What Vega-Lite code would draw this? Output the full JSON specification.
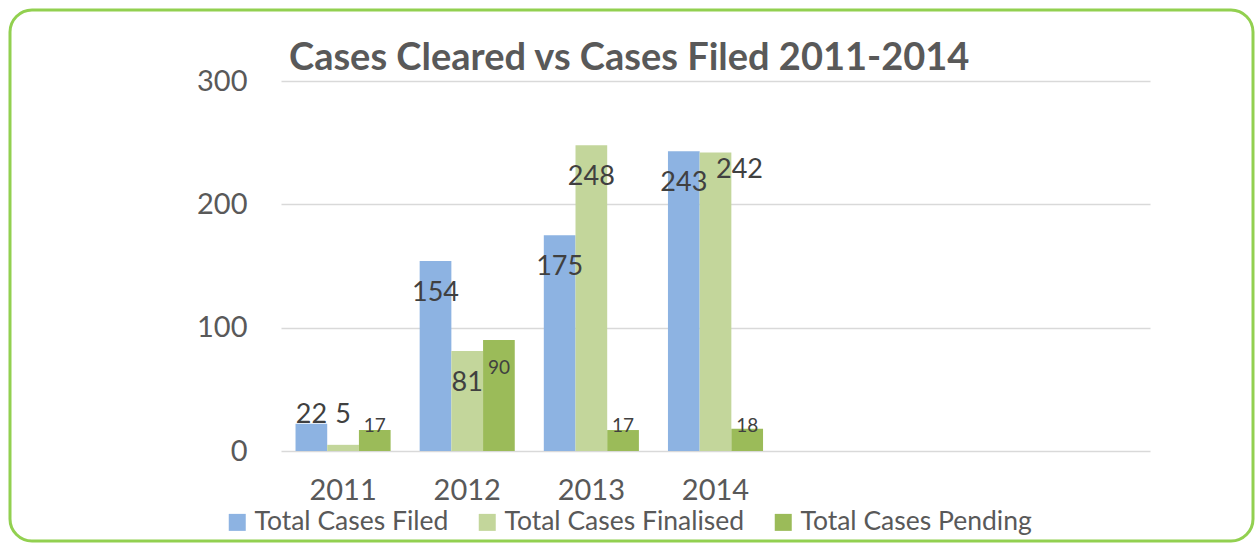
{
  "$schema": "https://vega.github.io/schema/vega-lite/v6.json",
  "width": 1243,
  "height": 531,
  "autosize": "none",
  "padding": {"left": 10, "top": 10, "right": 3, "bottom": 2},
  "background": "white",
  "config": {
    "view": {"stroke": "#92D050", "strokeWidth": 3, "cornerRadius": 22},
    "font": "Lato"
  },
  "title": {
    "text": "Cases Cleared vs Cases Filed 2011-2014",
    "anchor": "start",
    "dx": 279,
    "offset": -68,
    "fontSize": 38,
    "fontWeight": "bold",
    "color": "#595959",
    "font": "Lato"
  },
  "data": {
    "values": [
      {"year": "2011", "series": "Total Cases Filed", "value": 22},
      {"year": "2011", "series": "Total Cases Finalised", "value": 5},
      {"year": "2011", "series": "Total Cases Pending", "value": 17},
      {"year": "2012", "series": "Total Cases Filed", "value": 154},
      {"year": "2012", "series": "Total Cases Finalised", "value": 81},
      {"year": "2012", "series": "Total Cases Pending", "value": 90},
      {"year": "2013", "series": "Total Cases Filed", "value": 175},
      {"year": "2013", "series": "Total Cases Finalised", "value": 248},
      {"year": "2013", "series": "Total Cases Pending", "value": 17},
      {"year": "2014", "series": "Total Cases Filed", "value": 243},
      {"year": "2014", "series": "Total Cases Finalised", "value": 242},
      {"year": "2014", "series": "Total Cases Pending", "value": 18}
    ]
  },
  "encoding": {
    "x": {
      "field": "year",
      "type": "nominal",
      "title": null,
      "scale": {
        "domain": ["2011", "2012", "2013", "2014", " ", "  ", "   "],
        "range": [271, 1140],
        "paddingInner": 0.234,
        "paddingOuter": 0.117
      },
      "axis": {
        "orient": "bottom",
        "offset": -90,
        "domain": false,
        "ticks": false,
        "grid": false,
        "labelPadding": 25,
        "labelFontSize": 29,
        "labelFont": "Lato",
        "labelColor": "#595959",
        "labelAngle": 0
      }
    },
    "xOffset": {
      "field": "series",
      "type": "nominal",
      "scale": {
        "domain": ["Total Cases Filed", "Total Cases Finalised", "Total Cases Pending"],
        "paddingInner": 0,
        "paddingOuter": 0
      }
    },
    "y": {
      "field": "value",
      "type": "quantitative",
      "title": null,
      "scale": {"domain": [0, 300], "range": [441, 71], "nice": false},
      "axis": {
        "orient": "left",
        "offset": -271,
        "domain": false,
        "ticks": false,
        "values": [0, 100, 200, 300],
        "labelPadding": 34,
        "labelFontSize": 29,
        "labelFont": "Lato",
        "labelColor": "#595959",
        "grid": true,
        "gridColor": "#D9D9D9",
        "gridWidth": 1.5
      }
    }
  },
  "layer": [
    {
      "mark": {"type": "bar"},
      "encoding": {
        "color": {
          "field": "series",
          "type": "nominal",
          "scale": {
            "domain": ["Total Cases Filed", "Total Cases Finalised", "Total Cases Pending"],
            "range": ["#8DB3E2", "#C3D69B", "#9BBB59"]
          },
          "legend": {
            "orient": "none",
            "legendX": 214,
            "legendY": 499,
            "direction": "horizontal",
            "title": null,
            "symbolType": "square",
            "symbolSize": 289,
            "symbolStrokeWidth": 0,
            "labelFontSize": 26.5,
            "labelFont": "Lato",
            "labelColor": "#595959",
            "labelOffset": 4,
            "columnPadding": 25,
            "labelLimit": 400
          }
        }
      }
    },
    {
      "transform": [{"filter": "datum.series !== 'Total Cases Pending'"}],
      "mark": {
        "type": "text",
        "baseline": "middle",
        "fontSize": 27,
        "font": "Lato",
        "color": "#404040",
        "dx": {"expr": "datum.year == '2014' && datum.series == 'Total Cases Finalised' ? 24 : 0"},
        "dy": {"expr": "datum.year == '2014' && datum.series == 'Total Cases Finalised' ? 17 : min(32, scale('y', 0) - scale('y', datum.value) - 36)"}
      },
      "encoding": {"text": {"field": "value", "type": "quantitative"}}
    },
    {
      "transform": [{"filter": "datum.series === 'Total Cases Pending'"}],
      "mark": {
        "type": "text",
        "baseline": "middle",
        "fontSize": 19,
        "font": "Lato",
        "color": "#404040",
        "dy": {"expr": "min(28, scale('y', 0) - scale('y', datum.value) - 25)"}
      },
      "encoding": {"text": {"field": "value", "type": "quantitative"}}
    }
  ]
}
